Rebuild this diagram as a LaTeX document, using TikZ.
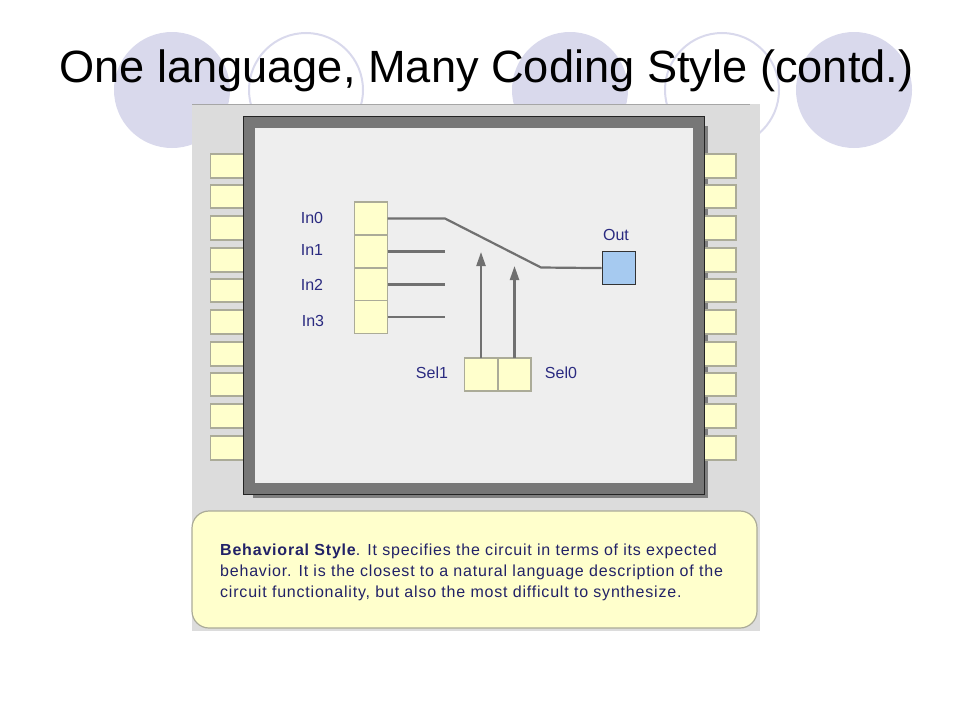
\documentclass[tikz,border=0pt]{standalone}
\usepackage{fontspec}
\setmainfont{Liberation Sans}
\newfontfamily\notefont[LetterSpace=5]{Liberation Sans}
\usetikzlibrary{arrows.meta}
\definecolor{ringcol}{HTML}{D9D9EC}
\definecolor{panelcol}{HTML}{DCDCDC}
\definecolor{chipcol}{HTML}{777777}
\definecolor{coreclr}{HTML}{EEEEEE}
\definecolor{pincol}{HTML}{FFFFCC}
\definecolor{pinedge}{HTML}{ABAB98}
\definecolor{labelcol}{HTML}{2A2A80}
\definecolor{wirecol}{HTML}{707070}
\definecolor{outcol}{HTML}{A6CAF0}
\tikzset{
  pinbox/.style={draw=pinedge,fill=pincol,line width=1.3pt,minimum width=33pt,minimum height=#1,inner sep=0pt,outer sep=0pt,anchor=north west},
  pinbox/.default=24pt,
  signal/.style={text=labelcol,font=\fontsize{16}{16}\selectfont,inner sep=0pt},
  wire/.style={draw=wirecol,line width=2.2pt},
  ring/.style={draw=ringcol,line width=2pt}
}
\begin{document}
\begin{tikzpicture}[x=1pt,y=-1pt]
\useasboundingbox (0,0) rectangle (960,720);
%
% Background circles
\fill [ringcol] (172,90) circle (58);
\draw [ring] (306,90) circle (57);
\fill [ringcol] (570,90) circle (58);
\draw [ring] (722,90) circle (57);
\fill [ringcol] (854,90) circle (58);
%
% Panel
\fill [panelcol] (192,104) rectangle (760,631);
\draw [gray!70] (192,104) -- (750,104);
%
% Chip shadow
\fill [gray] (253,126) rectangle (708,498);
%
% Pins on both sides
\foreach \y/\h in {154/24,185/23,216/24,248/24,279/23,310/24,342/24,373/23,404/24,436/24} {
  \node [pinbox=\h pt] at (210.5,\y) {};
  \node [pinbox=\h pt] at (703,\y) {};
}
%
% Chip
\draw [chipcol!30!black,fill=chipcol,line width=1pt] (243,116) rectangle (704,494);
\fill [coreclr] (255,128) rectangle (693,483);
%
% Inputs
\node [pinbox=33pt] (in0) at (354.5,202) {};
\node [pinbox=33pt] (in1) at (354.5,235) {};
\node [pinbox=33pt] (in2) at (354.5,268) {};
\node [pinbox=33pt] (in3) at (354.5,300.5) {};
\node [pinbox=33pt] (sel1) at (464.5,358) {};
\node [pinbox=33pt] (sel0) at (498,358) {};
\node [draw=black!80,fill=outcol,line width=1.2pt,minimum size=33pt,inner sep=0pt,anchor=north west] (out) at (601.5,251) {};
%
\node [signal] (lin0) at (312,218) {In0};
\node [signal] (lin1) at (312,250) {In1};
\node [signal] (lin2) at (312,285) {In2};
\node [signal] (lin3) at (313,321) {In3};
\node [signal] (lsel1) at (432,373) {Sel1};
\node [signal] (lsel0) at (561,373) {Sel0};
\node [signal] (lout) at (616,235) {Out};
%
% Switch
\coordinate (knee) at (445,218.5);
\coordinate (pivot) at (541,267.5);
\coordinate (end1) at (445,251.5);
\coordinate (end2) at (445,284.5);
\coordinate (end3) at (445,317);
\coordinate (tip1) at (481,252);
\coordinate (tip0) at (514.5,266);
\draw [wire] (in0.east) -- (knee) -- (pivot) -- (out.west);
\draw [wire] (in1.east) -- (end1);
\draw [wire] (in2.east) -- (end2);
\draw [wire] (in3.east) -- (end3);
\draw [wire,-{Triangle[length=14pt,width=9pt]}] (sel1.north) -- (tip1);
\draw [wire,-{Triangle[length=14pt,width=9pt]}] (sel0.north) -- (tip0);
%
% Note
\draw [pinedge,fill=pincol,line width=1.2pt,rounded corners=17pt] (192,511) rectangle (757,628);
\node [anchor=base west,inner sep=0pt,text=labelcol!80!black,font=\notefont\fontsize{16}{21}\selectfont,align=left] (note) at (220,597) {\textbf{Behavioral Style}. It specifies the circuit in terms of its expected\\behavior. It is the closest to a natural language description of the\\circuit functionality, but also the most difficult to synthesize.};
%
% Title
\node [anchor=base west,inner sep=0pt,font=\fontsize{45.2}{46}\selectfont] (title) at (59,82) {One language, Many Coding Style (contd.)};
\end{tikzpicture}
\end{document}
